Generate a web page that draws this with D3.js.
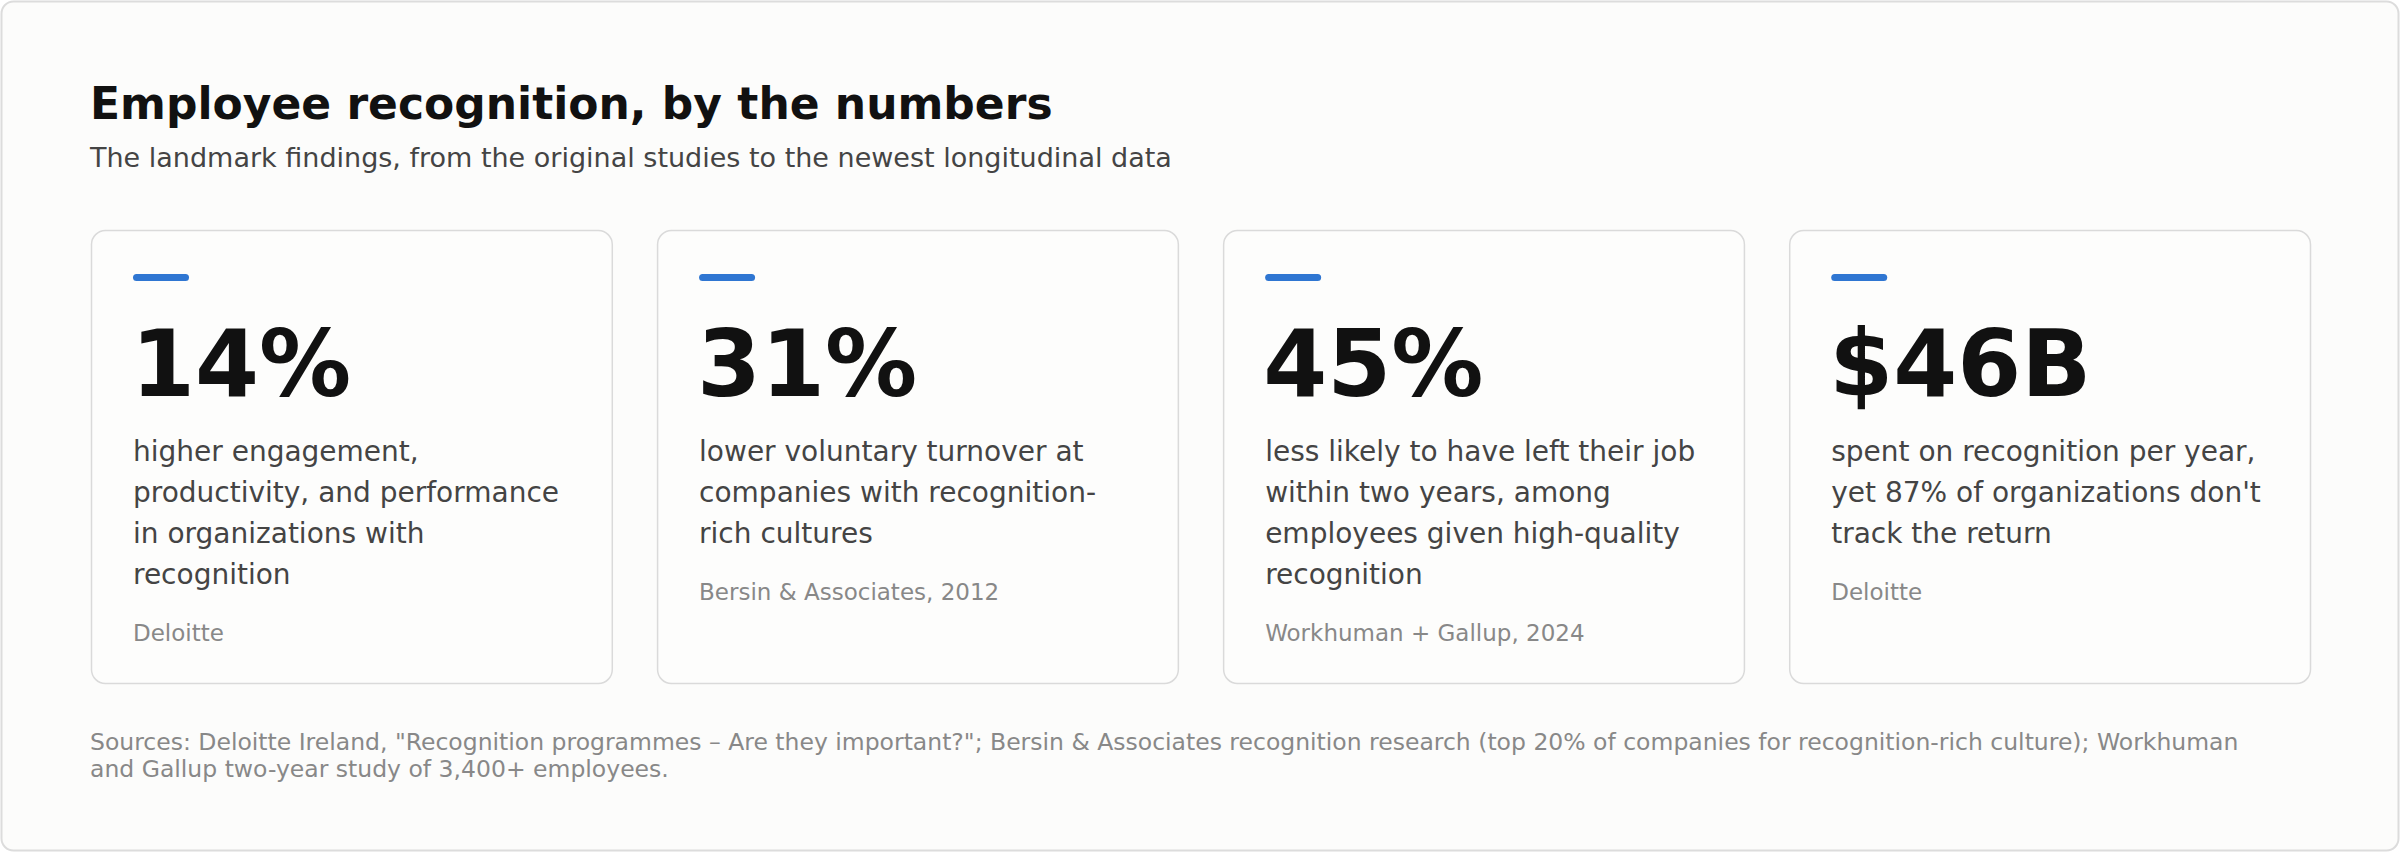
<!DOCTYPE html>
<html><head><meta charset="utf-8">
<script src="https://cdn.jsdelivr.net/npm/d3@7"></script>
<style>body{margin:0;background:#fff;font-family:"DejaVu Sans",sans-serif}</style>
</head><body><svg id="chart"></svg>
<script>
// headline numbers and what they mean
const stats = ["14%", "31%", "45%", "$46B"];
const descriptions = [
  ["higher engagement,", "productivity, and performance", "in organizations with", "recognition"],
  ["lower voluntary turnover at", "companies with recognition-", "rich cultures"],
  ["less likely to have left their job", "within two years, among", "employees given high-quality", "recognition"],
  ["spent on recognition per year,", "yet 87% of organizations don't", "track the return"]
];
const sources = ["Deloitte", "Bersin & Associates, 2012", "Workhuman + Gallup, 2024", "Deloitte"];
const footnote = [
  "Sources: Deloitte Ireland, \"Recognition programmes \u2013 Are they important?\"; Bersin & Associates recognition research (top 20% of companies for recognition-rich culture); Workhuman",
  "and Gallup two-year study of 3,400+ employees."
];

const W = 2400, H = 852;
const svg = d3.select("#chart").attr("width", W).attr("height", H);

svg.append("rect").attr("x", 1.5).attr("y", 1.5).attr("width", W - 3).attr("height", H - 3)
  .attr("rx", 12).attr("fill", "#fcfcfb").attr("stroke", "#dcdcdc").attr("stroke-width", 2);

svg.append("text").attr("x", 90).attr("y", 119).attr("font-size", 44).attr("font-weight", "bold")
  .attr("fill", "#111").text("Employee recognition, by the numbers");
svg.append("text").attr("x", 90).attr("y", 167).attr("font-size", 27)
  .attr("fill", "#444").text("The landmark findings, from the original studies to the newest longitudinal data");

const x = d3.scaleBand().domain(d3.range(stats.length)).range([91, 2310]).paddingInner(0.08);

const cards = svg.selectAll(".card").data(stats).enter().append("g")
  .attr("class", "card").attr("transform", (d, i) => `translate(${x(i)},230)`);

cards.append("rect").attr("x", 0.5).attr("y", 0.5).attr("width", x.bandwidth()).attr("height", 453)
  .attr("rx", 14).attr("fill", "#fdfdfc").attr("stroke", "#dadada").attr("stroke-width", 1.5);

cards.append("rect").attr("x", 42).attr("y", 44).attr("width", 56).attr("height", 7)
  .attr("rx", 3.5).attr("fill", "#2f76d2");

cards.append("text").attr("x", 40).attr("y", 166).attr("font-size", 92).attr("font-weight", "bold")
  .attr("fill", "#111").text(d => d);

cards.each(function(d, i) {
  const g = d3.select(this);
  const lines = descriptions[i];
  g.selectAll(".desc").data(lines).enter().append("text")
    .attr("x", 42).attr("y", (l, j) => 231 + j * 41)
    .attr("font-size", 28).attr("fill", "#444").text(l => l);
  g.append("text").attr("x", 42).attr("y", 231 + (lines.length - 1) * 41 + 57)
    .attr("font-size", 23).attr("fill", "#888").text(sources[i]);
});

svg.selectAll(".foot").data(footnote).enter().append("text")
  .attr("x", 90).attr("y", (d, i) => 750 + i * 27)
  .attr("font-size", 23.5).attr("fill", "#888").text(d => d);
</script></body></html>
